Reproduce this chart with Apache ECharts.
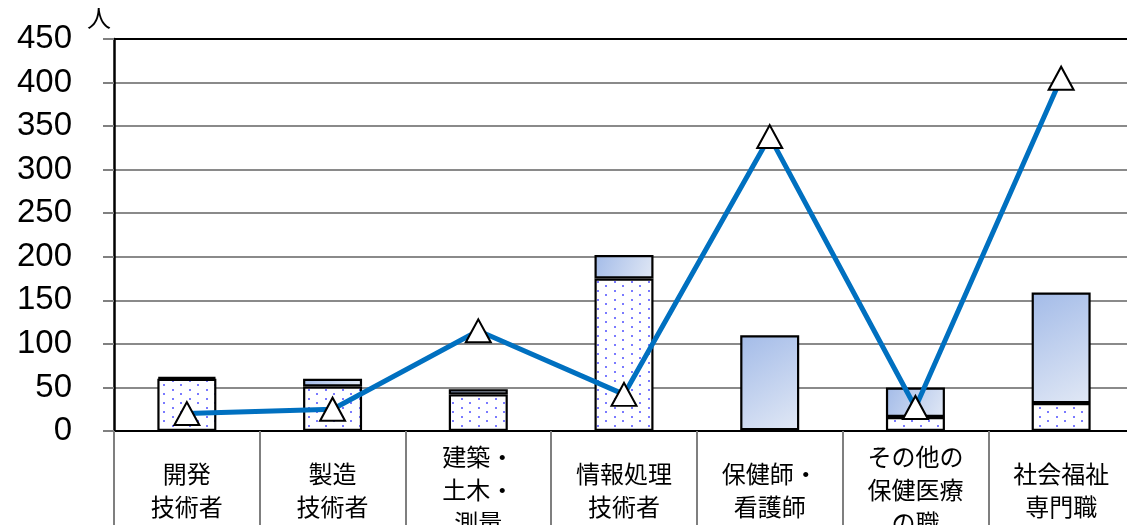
<!DOCTYPE html>
<html>
<head>
<meta charset="utf-8">
<script src="https://cdn.jsdelivr.net/npm/echarts@6/dist/echarts.min.js"></script>
<style>
html,body{margin:0;padding:0;background:#fff;}
#c{width:1127px;height:525px;}
</style>
</head>
<body>
<div id="c"></div>
<script>
const categories = ['開発\n技術者', '製造\n技術者', '建築・\n土木・\n測量', '情報処理\n技術者', '保健師・\n看護師', 'その他の\n保健医療\nの職', '社会福祉\n専門職'];
const barBottom = [60, 51, 42, 175, 1, 16, 32];
const barTop = [2, 9, 6, 27, 109, 34, 127];
const lineValues = [20, 25, 115, 42, 338, 27, 405];
const yMin = 0, yMax = 450, yStep = 50;
const unitLabel = '人';

function makeDots() {
  const cv = document.createElement('canvas');
  cv.width = 17; cv.height = 9;
  const g = cv.getContext('2d');
  g.fillStyle = '#ffffff';
  g.fillRect(0, 0, 17, 9);
  g.fillStyle = '#7a7aff';
  g.fillRect(2, 2, 2, 2);
  g.fillRect(10, 6, 2, 2);
  return cv;
}

const chart = echarts.init(document.getElementById('c'), null, {renderer: 'canvas'});
const cjk = '"Noto Sans CJK JP", "Noto Sans", sans-serif';
chart.setOption({
  animation: false,
  backgroundColor: '#ffffff',
  grid: {left: 114, top: 39, width: 1020, height: 392, containLabel: false, outerBoundsMode: 'none'},
  xAxis: {
    type: 'category',
    data: categories,
    boundaryGap: true,
    axisLine: {lineStyle: {color: '#000', width: 2}},
    axisTick: {show: true, alignWithLabel: false, length: 94, lineStyle: {color: '#7f7f7f', width: 2}},
    axisLabel: {
      color: '#000', fontSize: 24, fontFamily: cjk, lineHeight: 33,
      verticalAlign: 'middle', margin: 59, interval: 0
    },
    splitLine: {show: false}
  },
  yAxis: {
    type: 'value',
    min: yMin, max: yMax, interval: yStep,
    name: unitLabel,
    nameLocation: 'end',
    nameGap: 9,
    nameTextStyle: {color: '#000', fontSize: 24, fontFamily: cjk, align: 'right', padding: [0, 3, 0, 0]},
    axisLine: {show: true, lineStyle: {color: '#000', width: 2.5}},
    axisTick: {show: true, length: 11, lineStyle: {color: '#808080', width: 2}},
    axisLabel: {color: '#000', fontSize: 33, fontFamily: '"Liberation Sans", Arial, sans-serif', margin: 42},
    splitLine: {show: true, lineStyle: {color: '#8a8a8a', width: 2}}
  },
  series: [
    {
      type: 'bar', stack: 'a', data: barBottom, barWidth: 59,
      itemStyle: {color: {image: makeDots(), repeat: 'repeat'}, borderColor: '#000', borderWidth: 2.2},
      z: 2
    },
    {
      type: 'bar', stack: 'a', data: barTop, barWidth: 59,
      itemStyle: {
        color: new echarts.graphic.LinearGradient(0, 0, 1, 1, [
          {offset: 0, color: '#a3bbe8'},
          {offset: 1, color: '#e1e8f5'}
        ]),
        borderColor: '#000', borderWidth: 2.2
      },
      z: 2
    },
    {
      type: 'line', data: lineValues,
      symbol: 'triangle', symbolSize: [25, 23],
      lineStyle: {color: '#0070c0', width: 5},
      itemStyle: {color: '#ffffff', borderColor: '#000', borderWidth: 2},
      z: 5,
      markLine: {
        silent: true, symbol: 'none', label: {show: false},
        lineStyle: {color: '#000', width: 2, type: 'solid'},
        data: [{yAxis: yMax}]
      }
    }
  ]
});
</script>
</body>
</html>
